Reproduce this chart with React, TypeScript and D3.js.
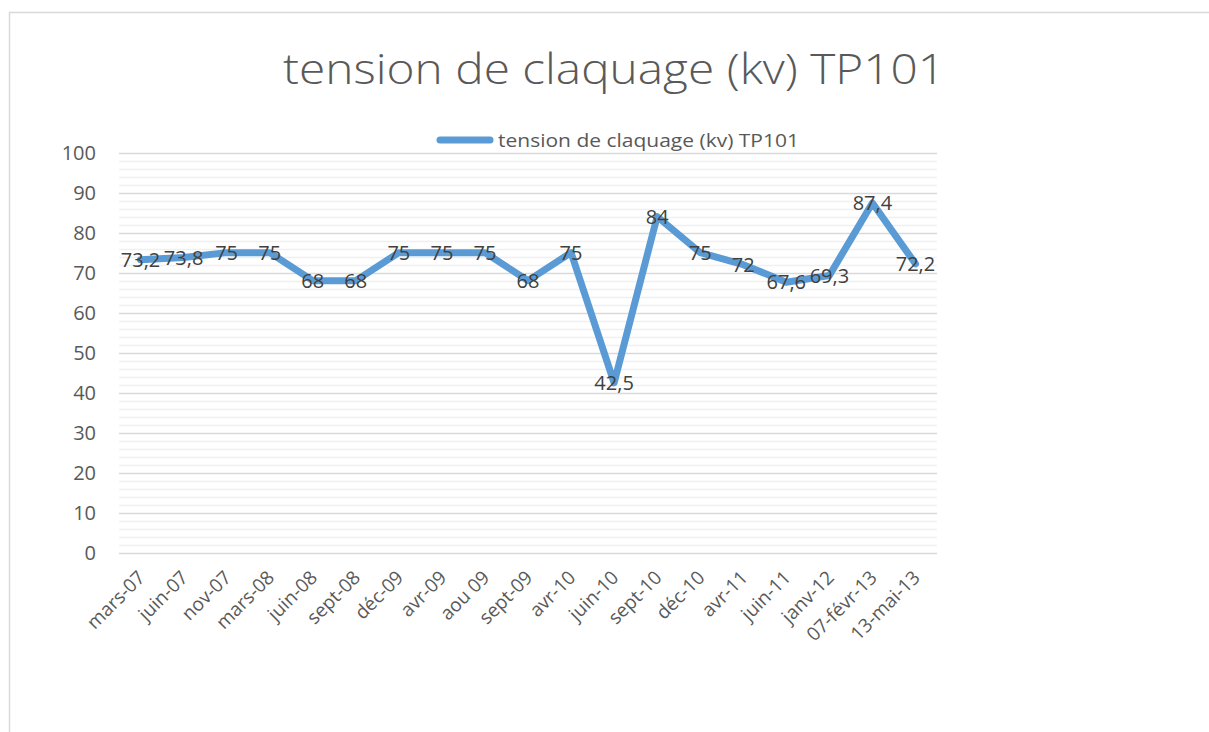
import { useEffect, useRef } from 'react';
import * as d3 from 'd3';

const categories = [
  'mars-07', 'juin-07', 'nov-07', 'mars-08', 'juin-08', 'sept-08', 'déc-09', 'avr-09', 'aou 09', 'sept-09',
  'avr-10', 'juin-10', 'sept-10', 'déc-10', 'avr-11', 'juin-11', 'janv-12', '07-févr-13', '13-mai-13',
];
const values = [73.2, 73.8, 75, 75, 68, 68, 75, 75, 75, 68, 75, 42.5, 84, 75, 72, 67.6, 69.3, 87.4, 72.2];
const yTicks = [0, 10, 20, 30, 40, 50, 60, 70, 80, 90, 100];
const seriesName = 'tension de claquage (kv) TP101';
const title = 'tension de claquage (kv) TP101';

const W = 1209;
const H = 732;
const FONT = "'Open Sans', 'Noto Sans', sans-serif";

const App = () => {
  const svgRef = useRef<SVGSVGElement>(null);

  useEffect(() => {
    const svg = d3.select(svgRef.current);
    svg.selectAll('*').remove();

    const left = 119, right = 937, top = 152.5, bottom = 553;

    // outer frame
    svg.append('rect')
      .attr('x', 9.5).attr('y', 12.5)
      .attr('width', W + 20).attr('height', H + 20)
      .attr('fill', 'white').attr('stroke', '#d9d9d9').attr('stroke-width', 1.5);

    const x = d3.scaleBand<string>().domain(categories).range([left, right]);
    const y = d3.scaleLinear().domain([0, 100]).range([bottom, top]);
    const cx = (c: string) => x(c)! + x.bandwidth() / 2;

    // minor gridlines
    const minor = d3.range(0, 101, 2).filter(v => v % 10 !== 0);
    svg.append('g').selectAll('line').data(minor).join('line')
      .attr('x1', left).attr('x2', right)
      .attr('y1', d => Math.round(y(d)) + 0.5).attr('y2', d => Math.round(y(d)) + 0.5)
      .attr('stroke', '#f0f0f0').attr('stroke-width', 1.5);

    // major gridlines
    svg.append('g').selectAll('line').data(yTicks).join('line')
      .attr('x1', left).attr('x2', right)
      .attr('y1', d => Math.round(y(d)) + 0.5).attr('y2', d => Math.round(y(d)) + 0.5)
      .attr('stroke', '#d9d9d9').attr('stroke-width', 1.5);

    // y labels
    svg.append('g').selectAll('text').data(yTicks).join('text')
      .attr('x', 96).attr('y', d => y(d))
      .attr('dy', '0.36em')
      .attr('text-anchor', 'end')
      .attr('font-family', FONT).attr('font-size', 20)
      .attr('fill', '#595959')
      .text(d => d);

    // x labels
    svg.append('g').selectAll('text').data(categories).join('text')
      .attr('transform', d => `translate(${cx(d) + 1},${574}) rotate(-45)`)
      .attr('text-anchor', 'end')
      .attr('dy', '0.35em')
      .attr('font-family', FONT).attr('font-size', 19)
      .attr('fill', '#595959')
      .text(d => d);

    const pts = categories.map((c, i) => ({ c, v: values[i] }));
    const line = d3.line<{ c: string; v: number }>()
      .x(d => cx(d.c))
      .y(d => y(d.v));

    svg.append('path')
      .datum(pts)
      .attr('d', line)
      .attr('fill', 'none')
      .attr('stroke', '#5b9bd5')
      .attr('stroke-width', 7)
      .attr('stroke-linejoin', 'round')
      .attr('stroke-linecap', 'round');

    // data labels
    svg.append('g').selectAll('text').data(pts).join('text')
      .attr('x', d => cx(d.c))
      .attr('y', d => y(d.v))
      .attr('dy', '0.36em')
      .attr('text-anchor', 'middle')
      .attr('font-family', FONT).attr('font-size', 20)
      .attr('fill', '#404040')
      .text(d => String(d.v).replace('.', ','));

    // title
    svg.append('text')
      .attr('x', 614).attr('y', 84)
      .attr('text-anchor', 'middle')
      .attr('font-family', FONT).attr('font-size', 43).attr('font-weight', 300)
      .attr('fill', '#595959')
      .attr('textLength', 662).attr('lengthAdjust', 'spacingAndGlyphs')
      .text(title);

    // legend
    svg.append('line')
      .attr('x1', 440).attr('x2', 490).attr('y1', 140).attr('y2', 140)
      .attr('stroke', '#5b9bd5').attr('stroke-width', 7).attr('stroke-linecap', 'round');
    svg.append('text')
      .attr('x', 498).attr('y', 140).attr('dy', '0.35em')
      .attr('font-family', FONT).attr('font-size', 19)
      .attr('fill', '#595959')
      .attr('textLength', 301).attr('lengthAdjust', 'spacingAndGlyphs')
      .text(seriesName);
  }, []);

  return (
    <svg ref={svgRef} width={W} height={H}
      style={{ position: 'absolute', left: 0, top: 0, background: 'white' }} />
  );
};

export default App;
